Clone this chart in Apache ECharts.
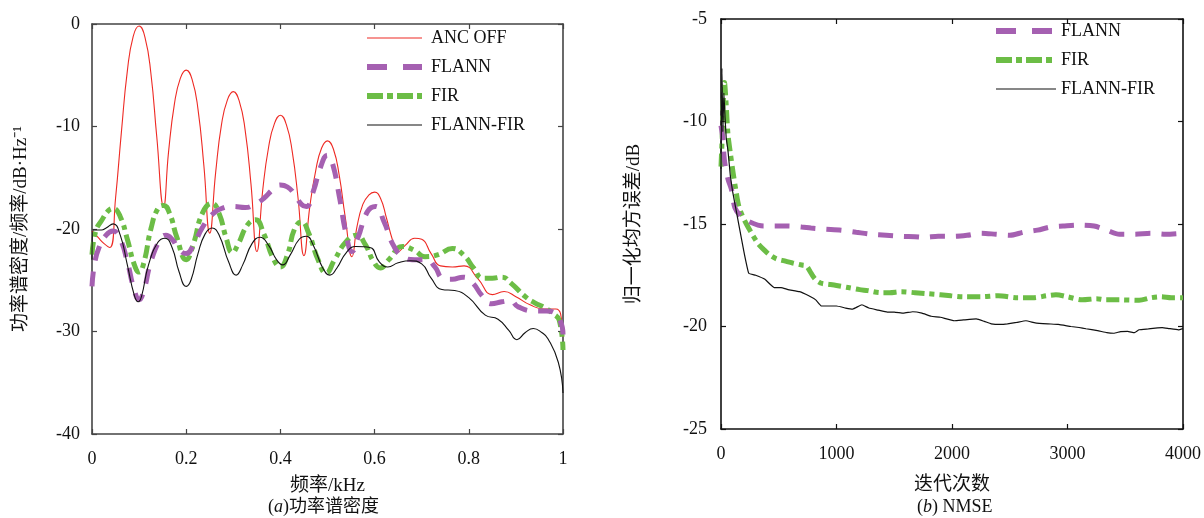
<!DOCTYPE html>
<html>
<head>
<meta charset="utf-8">
<style>
html,body{margin:0;padding:0;background:#fff;}
#chart{width:1204px;height:518px;}
</style>
<script src="https://cdn.jsdelivr.net/npm/echarts/dist/echarts.min.js"></script>
</head>
<body>
<div id="chart"></div>
<script>
// ---------- (a) power spectral density ----------
var xTicksA = [0, 0.2, 0.4, 0.6, 0.8, 1];
var yTicksA = [-40, -30, -20, -10, 0];

var ancOffFreq = [0, 0.0125, 0.025, 0.038, 0.05, 0.0625, 0.075, 0.0875, 0.1, 0.1125, 0.125, 0.1375, 0.152,
  0.1625, 0.175, 0.1875, 0.2, 0.2125, 0.225, 0.2375, 0.25,
  0.2625, 0.275, 0.2875, 0.3, 0.3125, 0.325, 0.3375, 0.35,
  0.3625, 0.375, 0.3875, 0.4, 0.4125, 0.425, 0.4375, 0.45,
  0.4625, 0.475, 0.4875, 0.5, 0.5125, 0.525, 0.5375, 0.552,
  0.5625, 0.575, 0.5875, 0.6, 0.6125, 0.625, 0.6375, 0.648,
  0.665, 0.685, 0.7, 0.72, 0.74, 0.765, 0.79, 0.82, 0.85, 0.875, 0.9, 0.93, 0.96, 0.985, 0.995, 1.0];
var ancOffPsd = [-20.2, -20.8, -21.4, -21.8, -17.0, -10.5, -4.6, -1.2, -0.2, -1.3, -4.8, -11.0, -17.8,
  -12.5, -7.8, -5.3, -4.5, -5.4, -8.3, -13.8, -20.4,
  -14.5, -9.8, -7.4, -6.6, -7.5, -10.3, -15.6, -22.2,
  -16.2, -12.0, -9.7, -8.9, -9.8, -12.4, -17.0, -22.6,
  -17.8, -14.3, -12.1, -11.4, -12.2, -14.8, -18.8, -22.7,
  -19.8, -17.6, -16.7, -16.4, -17.0, -18.9, -21.0, -22.3,
  -21.6, -20.9, -21.0, -22.4, -23.6, -23.7, -23.6, -24.9, -26.4, -26.1, -26.6, -27.4, -27.8, -27.8, -28.3, -30.5];

var flannFreq = [0, 0.005, 0.015, 0.03, 0.045, 0.06, 0.075, 0.09, 0.1, 0.11, 0.125, 0.145, 0.157, 0.17, 0.185, 0.2,
  0.215, 0.235, 0.255, 0.275, 0.3, 0.325, 0.345, 0.365, 0.385, 0.4, 0.415, 0.43, 0.445, 0.455, 0.47, 0.485, 0.5,
  0.51, 0.525, 0.54, 0.552, 0.565, 0.585, 0.602, 0.62, 0.64, 0.66, 0.685, 0.71, 0.728, 0.745, 0.765, 0.788,
  0.807, 0.828, 0.848, 0.87, 0.888, 0.905, 0.94, 0.965, 0.99, 1.0];
var flannPsd = [-25.6, -23.5, -21.8, -20.6, -20.2, -21.0, -23.2, -26.0, -26.9, -26.0, -23.2, -21.0, -20.6, -21.0, -22.0, -22.4,
  -21.6, -19.8, -18.6, -18.0, -17.8, -17.9, -17.6, -17.0, -16.1, -15.7, -15.9, -16.6, -17.6, -17.8, -16.3, -14.0, -12.8,
  -13.5, -16.8, -20.6, -22.2, -20.8, -18.3, -17.8, -19.3, -21.6, -22.7, -23.0, -23.0, -23.7, -24.8, -24.9, -24.7,
  -25.2, -26.5, -27.3, -27.1, -27.0, -27.6, -28.0, -28.0, -28.6, -30.3];

var firFreq = [0, 0.008, 0.02, 0.035, 0.045, 0.06, 0.075, 0.09, 0.1, 0.11, 0.125, 0.14, 0.152, 0.165, 0.18, 0.2,
  0.215, 0.235, 0.255, 0.27, 0.285, 0.298, 0.31, 0.33, 0.347, 0.365, 0.385, 0.4, 0.415, 0.43, 0.445, 0.46, 0.48,
  0.497, 0.515, 0.54, 0.562, 0.58, 0.598, 0.612, 0.63, 0.66, 0.685, 0.707, 0.735, 0.765, 0.79, 0.81, 0.83, 0.85,
  0.87, 0.89, 0.92, 0.94, 0.962, 0.98, 0.992, 1.0];
var firPsd = [-22.5, -20.2, -19.2, -18.2, -18.0, -18.8, -21.0, -23.5, -24.2, -23.3, -20.0, -18.0, -17.7, -18.5, -20.8, -23.0,
  -21.5, -18.4, -17.5, -18.5, -20.9, -22.3, -21.5, -19.6, -19.1, -20.5, -22.9, -23.7, -22.5, -20.0, -19.3, -20.4, -23.0,
  -24.3, -23.0, -21.2, -20.6, -21.5, -23.2, -23.8, -23.0, -21.7, -22.1, -22.7, -22.5, -21.9, -22.6, -23.8, -24.8, -24.8,
  -24.7, -25.3, -26.6, -27.2, -27.7, -28.3, -28.9, -31.8];

var comboFreq = [0, 0.003, 0.02, 0.03, 0.045, 0.06, 0.075, 0.09, 0.098, 0.105, 0.12, 0.14, 0.155, 0.17, 0.185, 0.2,
  0.21, 0.225, 0.24, 0.255, 0.27, 0.29, 0.306, 0.32, 0.34, 0.357, 0.375, 0.392, 0.405, 0.42, 0.44, 0.455, 0.47,
  0.49, 0.505, 0.52, 0.54, 0.56, 0.59, 0.61, 0.628, 0.65, 0.675, 0.7, 0.72, 0.743, 0.77, 0.8, 0.835, 0.862,
  0.885, 0.902, 0.92, 0.937, 0.955, 0.968, 0.99, 1.0];
var comboPsd = [-23.0, -20.1, -20.1, -19.9, -19.5, -20.6, -23.5, -26.5, -27.1, -26.6, -23.5, -21.3, -20.9, -21.8, -24.2, -25.6,
  -25.0, -22.4, -20.5, -19.9, -20.6, -23.2, -24.5, -23.5, -21.4, -20.8, -21.6, -23.0, -23.5, -22.6, -21.0, -20.7, -21.6,
  -23.8, -24.5, -23.8, -22.3, -21.7, -21.8, -23.2, -23.7, -23.3, -23.1, -23.4, -24.8, -25.9, -26.0, -26.7, -28.4, -28.8,
  -29.9, -30.8, -30.1, -29.7, -30.1, -30.7, -33.0, -36.0];

// ---------- (b) NMSE ----------
var xTicksB = [0, 1000, 2000, 3000, 4000];
var yTicksB = [-25, -20, -15, -10, -5];

var nmseFlannIter = [0, 15, 30, 60, 90, 120, 170, 250, 370, 480, 580, 700, 780, 900, 1040, 1170, 1300, 1430, 1560,
  1680, 1760, 1880, 2020, 2130, 2250, 2380, 2500, 2620, 2740, 2850, 2960, 3100, 3230, 3340, 3450, 3580, 3720, 3850, 4000];
var nmseFlann = [-10.2, -10.8, -11.9, -12.8, -13.3, -14.2, -14.6, -14.9, -15.1, -15.1, -15.1, -15.15, -15.2, -15.25,
  -15.3, -15.4, -15.5, -15.55, -15.6, -15.62, -15.65, -15.6, -15.6, -15.55, -15.45, -15.5, -15.55, -15.4, -15.3,
  -15.15, -15.1, -15.05, -15.1, -15.3, -15.5, -15.5, -15.45, -15.5, -15.45];

var nmseFirIter = [0, 10, 20, 30, 45, 60, 80, 105, 130, 155, 185, 220, 260, 320, 380, 420, 480, 550, 620, 700, 740,
  780, 810, 840, 875, 940, 1000, 1100, 1200, 1270, 1380, 1460, 1560, 1680, 1790, 1900, 1990, 2100, 2250, 2400, 2570,
  2700, 2820, 2900, 3000, 3130, 3250, 3330, 3450, 3620, 3720, 3810, 3900, 4000];
var nmseFir = [-12.2, -10.8, -9.0, -8.1, -9.2, -10.6, -11.5, -12.5, -13.4, -14.15, -14.6, -15.0, -15.4, -15.95, -16.3,
  -16.5, -16.7, -16.8, -16.9, -17.0, -17.05, -17.4, -17.65, -17.8, -17.9, -17.95, -18.0, -18.1, -18.2, -18.25, -18.35,
  -18.35, -18.3, -18.35, -18.4, -18.45, -18.5, -18.55, -18.55, -18.5, -18.6, -18.6, -18.5, -18.45, -18.55, -18.7,
  -18.65, -18.7, -18.7, -18.72, -18.6, -18.55, -18.6, -18.6];

var nmseComboIter = [0, 8, 16, 25, 35, 45, 60, 80, 100, 130, 160, 200, 240, 300, 380, 460, 520, 580, 680, 760, 820,
  870, 950, 1000, 1080, 1140, 1220, 1280, 1360, 1440, 1500, 1580, 1660, 1740, 1820, 1900, 2020, 2100, 2210, 2280,
  2340, 2420, 2480, 2560, 2640, 2720, 2830, 2920, 3030, 3100, 3160, 3260, 3340, 3400, 3460, 3520, 3580, 3620, 3700,
  3780, 3820, 3880, 3960, 4000];
var nmseCombo = [-12.3, -7.4, -10.5, -8.6, -9.8, -10.8, -11.4, -12.6, -13.4, -14.3, -15.2, -16.4, -17.4, -17.5, -17.7,
  -18.1, -18.1, -18.2, -18.3, -18.5, -18.7, -19.0, -19.0, -19.0, -19.1, -19.15, -18.94, -19.1, -19.2, -19.3, -19.3,
  -19.35, -19.28, -19.35, -19.5, -19.55, -19.72, -19.68, -19.63, -19.75, -19.87, -19.9, -19.87, -19.8, -19.72, -19.82,
  -19.87, -19.9, -20.0, -20.05, -20.11, -20.2, -20.3, -20.33, -20.25, -20.24, -20.3, -20.16, -20.12, -20.07, -20.05,
  -20.1, -20.16, -20.1];

function zip(xs, ys) { return xs.map(function (x, i) { return [x, ys[i]]; }); }

var SERIF = '"Liberation Serif", "Times New Roman", "Noto Sans CJK SC", serif';
var RED = '#ee2a24', PURPLE = '#a560b1', GREEN = '#6cbd46', BLACK = '#111111';

function mkX(grid, pos, ticks, labels, color, margin, fmt) {
  return {
    type: 'value', gridIndex: grid, position: pos,
    min: ticks[0], max: ticks[ticks.length - 1], interval: ticks[1] - ticks[0],
    axisLine: { show: true, onZero: false, lineStyle: { color: color, width: 1.6 } },
    axisTick: { show: true, inside: true, length: 5, lineStyle: { color: color, width: 1.2 } },
    axisLabel: { show: labels, margin: margin, color: '#111', fontFamily: SERIF, fontSize: 18,
      formatter: fmt || function (v) { return String(v); },
      showMinLabel: true, showMaxLabel: true },
    splitLine: { show: false }
  };
}

var chart = echarts.init(document.getElementById('chart'), null, { renderer: 'canvas' });

var xA = mkX(0, 'bottom', xTicksA, true, '#444', 16, function (v) { return String(+v.toFixed(1)); });
xA.name = '频率/kHz'; xA.nameLocation = 'middle'; xA.nameGap = 43;
xA.nameTextStyle = { fontFamily: SERIF, fontSize: 19, color: '#111' };
var yA = mkX(0, 'left', yTicksA, true, '#444', 12);
yA.name = '功率谱密度/频率/dB·Hz⁻¹'; yA.nameLocation = 'middle'; yA.nameGap = 61;
yA.nameTextStyle = { fontFamily: SERIF, fontSize: 19, color: '#111' };

var xB = mkX(1, 'bottom', xTicksB, true, '#111', 16);
xB.name = '迭代次数'; xB.nameLocation = 'middle'; xB.nameGap = 47;
xB.nameTextStyle = { fontFamily: SERIF, fontSize: 19, color: '#111' };
var yB = mkX(1, 'left', yTicksB, true, '#111', 14);
yB.name = '归一化均方误差/dB'; yB.nameLocation = 'middle'; yB.nameGap = 77;
yB.nameTextStyle = { fontFamily: SERIF, fontSize: 19, color: '#111' };

function line(name, data, xi, yi, color, width, type, smooth, z) {
  return {
    type: 'line', name: name, data: data, xAxisIndex: xi, yAxisIndex: yi,
    symbol: 'none', showSymbol: false, smooth: smooth, z: z, animation: false,
    lineStyle: { color: color, width: width, type: type }, itemStyle: { color: color }
  };
}

function legendItems(names) {
  var styles = {
    'ANC OFF': { color: RED, width: 1.2, type: 'solid' },
    'FLANN': { color: PURPLE, width: 6, type: [20, 16] },
    'FIR': { color: GREEN, width: 6, type: [16, 4, 6, 4] },
    'FLANN-FIR': { color: BLACK, width: 1.2, type: 'solid' }
  };
  return names.map(function (n) { return { name: n, lineStyle: styles[n], itemStyle: { opacity: 0 } }; });
}

var legendCommon = {
  orient: 'vertical', itemWidth: 55, itemHeight: 14, itemGap: 11, padding: 0,
  itemStyle: { opacity: 0 },
  textStyle: { fontFamily: SERIF, fontSize: 18, color: '#111', padding: [0, 0, 0, 4] },
  selectedMode: false
};

var option = {
  backgroundColor: '#fff',
  animation: false,
  grid: [
    { left: 92, right: 1204 - 563, top: 24, bottom: 518 - 434 },
    { left: 721, right: 1204 - 1192, top: 19, bottom: 518 - 429 }
  ],
  xAxis: [
    xA,
    mkX(0, 'top', xTicksA, false, '#444', 8),
    xB,
    mkX(1, 'top', xTicksB, false, '#111', 8)
  ],
  yAxis: [
    yA,
    mkX(0, 'right', yTicksA, false, '#444', 8),
    yB,
    mkX(1, 'right', yTicksB, false, '#111', 8)
  ],
  legend: [
    Object.assign({}, legendCommon, { left: 364, top: 29, data: legendItems(['ANC OFF', 'FLANN', 'FIR', 'FLANN-FIR']) }),
    Object.assign({}, legendCommon, { left: 993, top: 22, itemWidth: 60, data: legendItems(['FLANN', 'FIR', 'FLANN-FIR']),
      textStyle: { fontFamily: SERIF, fontSize: 18, color: '#111', padding: [0, 0, 0, 0] } })
  ],
  series: [
    line('ANC OFF', zip(ancOffFreq, ancOffPsd), 0, 0, RED, 1.1, 'solid', 0.5, 2),
    line('FLANN', zip(flannFreq, flannPsd), 0, 0, PURPLE, 5, [15, 11], 0.5, 4),
    line('FIR', zip(firFreq, firPsd), 0, 0, GREEN, 5, [13, 5, 5, 5], 0.5, 3),
    line('FLANN-FIR', zip(comboFreq, comboPsd), 0, 0, BLACK, 1.1, 'solid', 0.5, 5),
    line('FLANN', zip(nmseFlannIter, nmseFlann), 2, 2, PURPLE, 5, [15, 11], 0.3, 4),
    line('FIR', zip(nmseFirIter, nmseFir), 2, 2, GREEN, 5, [13, 5, 5, 5], 0.3, 3),
    line('FLANN-FIR', zip(nmseComboIter, nmseCombo), 2, 2, BLACK, 1.2, 'solid', 0.1, 5)
  ],
  graphic: [
    { type: 'text', left: 268, top: 498, style: { text: '({i|a})功率谱密度', fontFamily: SERIF, fontSize: 18, fill: '#111',
      rich: { i: { fontStyle: 'italic', fontFamily: SERIF, fontSize: 18 } } } },
    { type: 'text', left: 917, top: 498, style: { text: '({i|b}) NMSE', fontFamily: SERIF, fontSize: 18, fill: '#111',
      rich: { i: { fontStyle: 'italic', fontFamily: SERIF, fontSize: 18 } } } }
  ]
};
chart.setOption(option);
</script>
</body>
</html>
